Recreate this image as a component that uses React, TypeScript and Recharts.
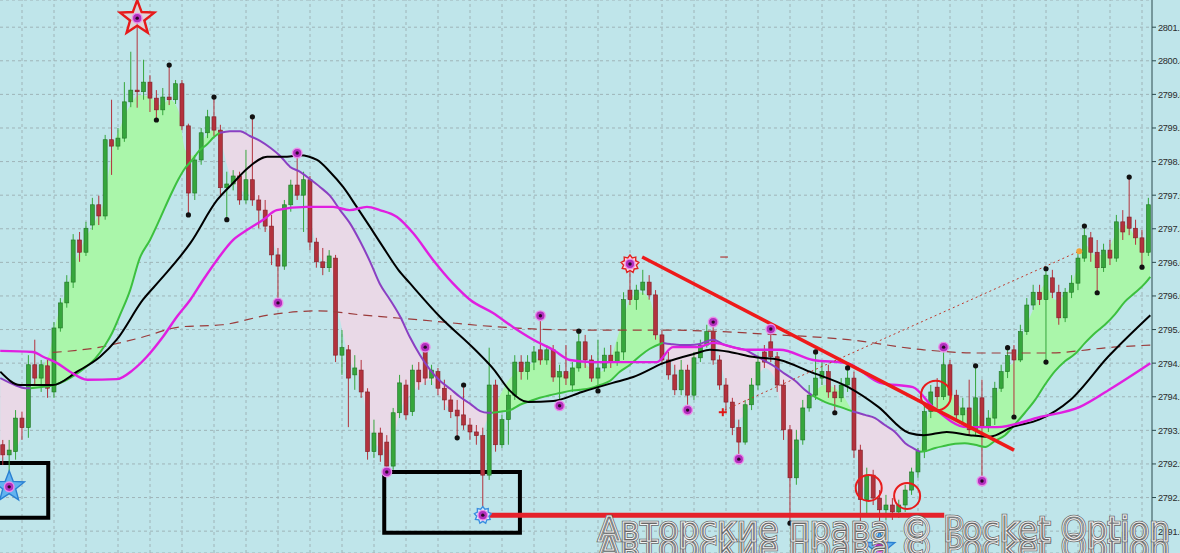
import React from "react";
import {
  ComposedChart,
  XAxis,
  YAxis,
  CartesianGrid,
  Bar,
  Line,
  Area,
  ReferenceArea,
  ReferenceDot,
  ReferenceLine,
} from "recharts";

// ---------- candles (price) ----------
const candleOpen = [
  2793.27, 2793.08, 2793.14, 2793.77, 2793.59, 2794.77, 2794.52, 2794.75, 2794.26, 2795.46,
  2795.93, 2796.32, 2797.11, 2796.88, 2797.39, 2797.77, 2797.56, 2798.99, 2798.87, 2799.02,
  2799.7, 2799.92, 2799.89, 2800.07, 2799.77, 2799.55, 2799.79, 2799.74, 2800.04, 2799.25,
  2797.99, 2798.61, 2799.12, 2799.42, 2799.17, 2798.09, 2798.16, 2798.31, 2797.86, 2798.24,
  2797.86, 2797.67, 2797.37, 2796.83, 2796.62, 2797.77, 2798.14, 2797.95, 2798.24, 2797.07,
  2796.7, 2796.59, 2796.77, 2794.95, 2795.05, 2794.58, 2794.67, 2794.26, 2793.14, 2793.49,
  2793.32, 2792.87, 2793.87, 2794.39, 2793.89, 2794.67, 2795.01, 2794.52, 2794.64, 2794.33,
  2794.11, 2793.92, 2793.83, 2793.64, 2793.51, 2793.44, 2792.7, 2794.39, 2793.27, 2793.74,
  2794.2, 2794.82, 2794.64, 2794.82, 2795.05, 2794.86, 2795.05, 2794.54, 2794.64, 2794.39,
  2794.71, 2795.2, 2794.86, 2794.52, 2794.71, 2794.95, 2794.82, 2795.01, 2796.17, 2795.99,
  2796.17, 2796.32, 2796.08, 2795.33, 2794.86, 2794.58, 2794.3, 2794.67, 2794.2, 2794.9,
  2795.14, 2795.39, 2794.86, 2794.39, 2794.07, 2793.59, 2793.32, 2794.02, 2794.39, 2795.01,
  2795.2, 2794.92, 2794.39, 2793.55, 2792.65, 2793.36, 2793.96, 2794.2, 2794.52, 2794.64,
  2794.26, 2794.15, 2794.39, 2794.52, 2793.17, 2792.24, 2792.7, 2792.27, 2792.05, 2792.14,
  2792.01, 2792.14, 2792.42, 2792.76, 2793.14, 2793.89, 2794.35, 2794.17, 2794.77, 2794.2,
  2793.83, 2793.96, 2793.55, 2794.15, 2793.59, 2793.77, 2794.33, 2794.64, 2795.05, 2794.86,
  2795.39, 2795.89, 2796.13, 2795.99, 2796.4, 2796.13, 2795.65, 2796.13, 2796.3, 2796.77,
  2797.15, 2796.88, 2796.59, 2796.92, 2796.77, 2797.45, 2797.54, 2797.33, 2797.15, 2796.88,
];
const candleHigh = [
  2793.36, 2793.36, 2793.92, 2793.89, 2794.95, 2795.24, 2794.86, 2794.86, 2795.57, 2796.02,
  2796.45, 2797.22, 2797.26, 2797.45, 2797.9, 2797.94, 2799.08, 2799.74, 2799.21, 2800.07,
  2800.64, 2801.27, 2800.49, 2800.2, 2799.92, 2799.96, 2800.39, 2800.11, 2800.11, 2799.29,
  2798.7, 2799.21, 2799.55, 2799.79, 2799.27, 2798.39, 2798.42, 2798.39, 2798.8, 2799.42,
  2797.95, 2797.86, 2797.58, 2796.96, 2797.86, 2798.24, 2798.74, 2798.39, 2798.31, 2797.15,
  2796.96, 2796.92, 2796.83, 2795.42, 2795.14, 2794.95, 2794.86, 2794.33, 2793.74, 2793.59,
  2793.45, 2793.96, 2794.58, 2794.49, 2794.77, 2794.82, 2795.1, 2794.77, 2794.71, 2794.49,
  2794.2, 2794.11, 2794.39, 2793.77, 2793.64, 2793.59, 2795.09, 2794.49, 2793.83, 2794.3,
  2794.95, 2794.95, 2794.95, 2795.12, 2795.69, 2795.14, 2795.14, 2794.77, 2795.14, 2794.82,
  2795.4, 2795.33, 2794.95, 2795.24, 2795.09, 2795.14, 2795.2, 2796.13, 2796.66, 2796.27,
  2796.55, 2796.45, 2796.17, 2795.42, 2795.01, 2794.77, 2794.86, 2794.77, 2795.01, 2795.24,
  2795.52, 2795.57, 2794.95, 2794.52, 2794.15, 2793.74, 2794.11, 2794.52, 2794.95, 2795.14,
  2795.44, 2795.01, 2794.49, 2793.64, 2793.55, 2794.11, 2794.39, 2795.01, 2794.82, 2794.77,
  2794.39, 2794.52, 2794.71, 2794.64, 2793.27, 2792.84, 2792.8, 2792.42, 2792.33, 2792.27,
  2792.24, 2792.52, 2792.84, 2793.21, 2794.02, 2794.39, 2794.52, 2795.1, 2794.86, 2794.3,
  2794.15, 2794.49, 2794.75, 2794.49, 2793.92, 2794.45, 2794.77, 2795.09, 2795.14, 2795.52,
  2796.02, 2796.27, 2796.27, 2796.57, 2796.55, 2796.27, 2796.21, 2796.45, 2796.9, 2797.37,
  2797.26, 2797.11, 2797.04, 2797.11, 2797.58, 2797.67, 2798.29, 2797.49, 2797.3, 2797.9,
];
const candleLow = [
  2792.89, 2792.48, 2792.99, 2793.36, 2793.4, 2794.39, 2794.26, 2794.15, 2794.15, 2795.39,
  2795.84, 2796.21, 2796.7, 2796.81, 2797.3, 2797.39, 2797.49, 2798.33, 2798.8, 2798.95,
  2799.6, 2799.59, 2799.74, 2799.51, 2799.36, 2799.45, 2799.64, 2799.66, 2799.17, 2797.58,
  2797.86, 2798.52, 2799.02, 2799.06, 2797.95, 2797.49, 2798.04, 2797.77, 2797.79, 2797.75,
  2797.33, 2797.26, 2796.64, 2795.93, 2796.55, 2797.64, 2797.86, 2797.26, 2796.92, 2796.59,
  2796.45, 2796.51, 2794.82, 2794.58, 2793.6, 2794.3, 2794.15, 2792.99, 2793.02, 2792.95,
  2792.76, 2792.8, 2793.77, 2793.74, 2793.81, 2794.3, 2794.39, 2794.39, 2794.2, 2793.92,
  2793.77, 2793.4, 2793.55, 2793.36, 2793.27, 2791.95, 2792.61, 2793.14, 2793.21, 2793.27,
  2794.11, 2794.49, 2794.49, 2794.67, 2794.77, 2794.77, 2794.45, 2794.0, 2794.39, 2794.26,
  2794.64, 2794.71, 2794.45, 2794.28, 2794.64, 2794.71, 2794.75, 2794.86, 2795.89, 2795.8,
  2796.08, 2795.99, 2795.24, 2794.77, 2794.49, 2794.2, 2794.2, 2793.92, 2794.11, 2794.82,
  2795.09, 2794.77, 2794.3, 2793.89, 2793.45, 2793.0, 2793.27, 2793.92, 2794.3, 2794.71,
  2794.82, 2794.26, 2793.36, 2791.8, 2792.52, 2793.27, 2793.89, 2794.11, 2794.39, 2794.15,
  2793.87, 2794.07, 2794.26, 2793.02, 2791.67, 2791.95, 2792.14, 2791.77, 2791.86, 2791.86,
  2791.9, 2792.01, 2792.33, 2792.65, 2793.02, 2793.77, 2793.96, 2794.11, 2794.11, 2793.74,
  2793.64, 2793.45, 2793.45, 2792.59, 2793.51, 2793.64, 2794.26, 2794.52, 2793.79, 2794.82,
  2795.33, 2795.8, 2795.89, 2794.82, 2796.02, 2795.52, 2795.57, 2796.02, 2796.17, 2796.7,
  2796.7, 2796.12, 2796.51, 2796.64, 2796.7, 2797.11, 2797.2, 2797.02, 2796.6, 2796.81,
];
const candleClose = [
  2793.08, 2793.17, 2793.77, 2793.59, 2794.77, 2794.52, 2794.77, 2794.33, 2795.46, 2795.93,
  2796.32, 2797.11, 2796.88, 2797.33, 2797.77, 2797.56, 2798.99, 2798.87, 2799.02, 2799.7,
  2799.92, 2799.89, 2800.07, 2799.77, 2799.55, 2799.79, 2799.74, 2800.04, 2799.25, 2797.99,
  2798.61, 2799.12, 2799.42, 2799.17, 2798.09, 2798.16, 2798.31, 2797.86, 2798.24, 2797.86,
  2797.67, 2797.37, 2796.83, 2796.62, 2797.77, 2798.14, 2797.95, 2798.24, 2797.07, 2796.7,
  2796.59, 2796.81, 2794.95, 2795.09, 2794.52, 2794.71, 2794.26, 2793.14, 2793.49, 2793.08,
  2792.87, 2793.87, 2794.43, 2793.83, 2794.67, 2794.45, 2794.52, 2794.67, 2794.33, 2794.11,
  2793.89, 2793.81, 2793.64, 2793.51, 2793.44, 2792.7, 2794.39, 2793.27, 2793.74, 2794.2,
  2794.82, 2794.64, 2794.82, 2795.01, 2794.86, 2795.05, 2794.54, 2794.64, 2794.52, 2794.71,
  2795.2, 2794.86, 2794.52, 2794.71, 2794.95, 2794.82, 2795.01, 2795.99, 2795.99, 2796.17,
  2796.32, 2796.08, 2795.33, 2794.86, 2794.58, 2794.3, 2794.67, 2794.2, 2794.9, 2795.14,
  2795.39, 2794.86, 2794.39, 2794.07, 2793.59, 2793.32, 2794.02, 2794.39, 2794.82, 2794.82,
  2794.92, 2794.39, 2793.55, 2792.65, 2793.36, 2793.96, 2794.2, 2794.52, 2794.64, 2794.26,
  2794.15, 2794.39, 2794.52, 2793.17, 2792.24, 2792.7, 2792.27, 2792.05, 2792.14, 2792.01,
  2792.14, 2792.42, 2792.76, 2793.14, 2793.89, 2794.26, 2794.17, 2794.77, 2794.2, 2793.83,
  2793.96, 2793.55, 2794.15, 2793.59, 2793.77, 2794.33, 2794.64, 2794.94, 2794.86, 2795.39,
  2795.89, 2796.13, 2795.99, 2796.45, 2796.13, 2795.65, 2796.13, 2796.3, 2796.77, 2797.19,
  2796.88, 2796.59, 2796.92, 2796.77, 2797.45, 2797.26, 2797.33, 2797.15, 2796.88, 2797.77,
];

// ---------- axes ----------
const yTicks = [
  2801.1, 2800.47, 2799.84, 2799.21, 2798.58, 2797.95, 2797.32, 2796.69,
  2796.06, 2795.43, 2794.8, 2794.17, 2793.54, 2792.91, 2792.28, 2791.65,
];
const vGrid = [
  3, 8, 13, 18, 23, 28, 33, 38, 43, 48, 53, 58, 63, 68, 73, 78, 83, 88,
  93, 98, 103, 108, 113, 118, 123, 128, 133, 138, 143, 148, 153, 158, 163, 168, 173, 178,
];

// ---------- trend cloud: slow line & fast edge ----------
const cloudIdx = [
  -0.4, 1.9, 3.5, 4.3, 5.8, 7.4, 8.5, 9.7, 11.3, 12.8,
  14.4, 16.0, 17.1, 18.3, 19.9, 21.4, 23.0, 24.6, 26.1, 27.4,
  28.5, 29.6, 30.8, 31.8, 33.0, 33.9, 35.5, 37.1, 38.6, 40.2,
  41.8, 43.3, 44.9, 46.4, 48.0, 49.6, 51.1, 52.7, 54.2, 55.8,
  57.4, 58.9, 60.5, 62.1, 63.6, 65.2, 66.8, 68.3, 69.9, 71.4,
  73.0, 74.6, 75.8, 76.4, 77.7, 79.3, 80.8, 82.4, 83.9, 85.5,
  87.1, 88.6, 90.2, 91.8, 93.3, 94.9, 96.4, 98.0, 99.6, 101.1,
  102.7, 103.2, 104.3, 105.8, 107.4, 108.9, 111.0, 112.8, 114.4, 116.0,
  117.5, 119.1, 120.7, 122.2, 123.8, 125.3, 126.4, 128.5, 130.8, 132.7,
  133.6, 134.7, 136.3, 137.8, 139.4, 141.0, 142.5, 143.3, 144.1, 145.7,
  147.2, 148.8, 150.3, 151.9, 153.5, 155.0, 156.6, 158.2, 159.7, 161.3,
  162.8, 164.4, 166.0, 167.5, 169.1, 170.7, 172.2, 173.8, 175.3, 176.9,
  178.5, 179.3,
];
const cloudSlow = [
  2794.52, 2794.39, 2794.33, 2794.33, 2794.35, 2794.37, 2794.41, 2794.47, 2794.58, 2794.71,
  2794.88, 2795.14, 2795.37, 2795.7, 2796.17, 2796.77, 2797.11, 2797.52, 2797.92, 2798.24,
  2798.46, 2798.61, 2798.8, 2798.89, 2799.04, 2799.12, 2799.15, 2799.15, 2799.06, 2798.97,
  2798.84, 2798.69, 2798.48, 2798.39, 2798.25, 2798.1, 2797.94, 2797.67, 2797.43, 2797.09,
  2796.7, 2796.29, 2795.99, 2795.67, 2795.29, 2794.95, 2794.67, 2794.47, 2794.32, 2794.17,
  2794.04, 2793.9, 2793.87, 2793.87, 2793.89, 2793.92, 2794.02, 2794.09, 2794.15, 2794.2,
  2794.24, 2794.28, 2794.3, 2794.33, 2794.39, 2794.47, 2794.64, 2794.77, 2794.94, 2795.07,
  2795.16, 2795.18, 2795.16, 2795.14, 2795.14, 2795.16, 2795.24, 2795.14, 2795.09, 2795.05,
  2794.95, 2794.84, 2794.73, 2794.6, 2794.47, 2794.3, 2794.2, 2794.07, 2793.98, 2793.9,
  2793.87, 2793.83, 2793.77, 2793.64, 2793.51, 2793.3, 2793.19, 2793.14, 2793.15, 2793.21,
  2793.25, 2793.29, 2793.3, 2793.27, 2793.23, 2793.34, 2793.45, 2793.66, 2793.87, 2794.11,
  2794.39, 2794.65, 2794.84, 2794.97, 2795.18, 2795.37, 2795.52, 2795.72, 2795.95, 2796.12,
  2796.3, 2796.42,
];
const cloudFast = [
  2793.02, 2793.17, 2793.74, 2794.33, 2794.64, 2795.05, 2795.65, 2796.08, 2796.7, 2797.11,
  2797.45, 2797.95, 2798.8, 2799.21, 2799.64, 2799.83, 2799.79, 2799.64, 2799.74, 2799.55,
  2798.8, 2798.69, 2798.84, 2799.08, 2799.17, 2799.12, 2798.33, 2798.05, 2797.95, 2797.67,
  2797.2, 2796.83, 2797.86, 2798.05, 2797.49, 2796.77, 2796.64, 2795.61, 2794.86, 2794.49,
  2793.55, 2793.21, 2793.17, 2793.92, 2794.2, 2794.39, 2794.49, 2794.2, 2793.92, 2793.77,
  2793.59, 2793.45, 2793.77, 2793.87, 2794.2, 2794.52, 2794.67, 2794.77, 2794.9, 2794.86,
  2794.58, 2794.64, 2794.82, 2794.71, 2794.64, 2794.86, 2795.42, 2795.99, 2796.13, 2795.99,
  2795.24, 2795.18, 2794.86, 2794.64, 2794.67, 2795.05, 2795.24, 2794.49, 2793.74, 2793.83,
  2794.39, 2794.71, 2794.49, 2793.55, 2793.17, 2793.92, 2794.2, 2794.39, 2794.26, 2793.9,
  2792.99, 2792.42, 2792.24, 2792.09, 2792.05, 2792.24, 2792.8, 2793.14, 2793.64, 2794.11,
  2794.49, 2794.11, 2793.92, 2793.92, 2793.64, 2794.11, 2794.67, 2794.86, 2795.42, 2795.89,
  2796.27, 2795.99, 2796.08, 2796.45, 2797.02, 2796.83, 2796.83, 2797.2, 2797.39, 2797.2,
  2797.11, 2797.58,
];

// ---------- moving averages ----------
const blackIdx = [
  -0.4, 2.7, 7.8, 11.6, 15.2, 17.8, 21.9, 24.6, 29.3, 33.5, 36.0, 38.3, 41.3, 44.4, 46.4,
  49.1, 51.1, 53.2, 55.3, 57.4, 59.4, 61.8, 63.6, 68.3, 73.8, 76.8, 79.1, 82.1, 86.0, 90.5,
  95.3, 98.5, 103.2, 108.5, 110.5, 113.6, 117.1, 121.4, 126.1, 132.1, 136.8, 141.6, 143.9,
  147.5, 151.1, 154.2, 157.7, 161.9, 166.8, 172.7, 179.3,
];
const blackVal = [
  2794.64, 2794.39, 2794.39, 2794.64, 2794.92, 2795.24, 2795.99, 2796.36, 2797.05, 2797.86,
  2798.18, 2798.46, 2798.67, 2798.67, 2798.7, 2798.61, 2798.39, 2798.1, 2797.73, 2797.35,
  2796.98, 2796.55, 2796.3, 2795.67, 2795.05, 2794.67, 2794.3, 2794.07, 2794.09, 2794.26,
  2794.43, 2794.54, 2794.8, 2794.99, 2795.05, 2795.01, 2794.92, 2794.86, 2794.64, 2794.35,
  2793.98, 2793.49, 2793.45, 2793.51, 2793.45, 2793.42, 2793.6, 2793.74, 2794.11, 2794.92,
  2795.7,
];
const magentaIdx = [
  -0.4, 4.7, 6.3, 8.5, 10.5, 13.2, 17.8, 20.3, 22.5, 25.0, 27.2, 29.3, 31.3, 33.5, 36.0,
  38.2, 40.7, 42.8, 47.5, 51.6, 54.2, 56.9, 58.9, 61.6, 64.1, 67.2, 70.3, 73.0, 76.6, 79.7,
  82.9, 86.0, 88.6, 92.2, 99.6, 102.2, 104.7, 108.5, 111.0, 116.3, 121.4, 126.6, 131.9,
  137.1, 142.2, 145.3, 150.7, 155.4, 162.1, 168.3, 173.5, 179.3,
];
const magentaVal = [
  2795.03, 2795.01, 2794.92, 2794.8, 2794.64, 2794.49, 2794.5, 2794.67, 2794.92, 2795.29,
  2795.67, 2795.99, 2796.36, 2796.74, 2797.11, 2797.3, 2797.49, 2797.67, 2797.73, 2797.73,
  2797.67, 2797.73, 2797.67, 2797.54, 2797.24, 2796.74, 2796.3, 2795.99, 2795.74, 2795.48,
  2795.24, 2795.05, 2794.86, 2794.82, 2794.82, 2794.82, 2795.1, 2795.1, 2795.18, 2795.05,
  2795.05, 2794.86, 2794.8, 2794.43, 2794.35, 2793.98, 2793.6, 2793.6, 2793.79, 2793.98,
  2794.35, 2794.8,
];
const brownIdx = [
  7.8, 15.2, 21.9, 27.7, 34.3, 41.4, 49.3, 56.4, 65.3, 77.4, 90.5, 103.2, 121.4, 132.1,
  143.9, 152.7, 163.2, 173.5, 179.3,
];
const brownVal = [
  2795.0, 2795.1, 2795.29, 2795.48, 2795.52, 2795.7, 2795.78, 2795.7, 2795.61, 2795.48,
  2795.42, 2795.42, 2795.33, 2795.24, 2795.05, 2794.99, 2794.99, 2795.1, 2795.14,
];

// ---------- drawn objects ----------
const trendIdx = [99.9, 158.0];
const trendVal = [2796.79, 2793.17];
const supportIdx = [75.5, 147.1];
const supportVal = [2791.95, 2791.95];
const dottedIdx = [112.8, 168.2];
const dottedVal = [2793.92, 2796.9];
const dashIdx = [112.1, 113.3];
const dashVal = [2796.79, 2796.79];
const boxX1 = [-1.2, 59.6];
const boxX2 = [7.1, 80.8];
const boxY1 = [2791.9, 2791.62];
const boxY2 = [2792.93, 2792.76];
const circleIdx = [135.3, 141.3, 145.8];
const circleVal = [2792.46, 2792.31, 2794.19];
const circleR = [13, 13, 15];

// ---------- signal markers ----------
const fractalIdx = [43, 46, 60, 66, 84, 87, 107, 111, 115, 120, 147, 153];
const fractalVal = [
  2795.93, 2798.74, 2792.76, 2795.1, 2795.69, 2794.0, 2793.92, 2795.57, 2793.0, 2795.44,
  2795.1, 2792.59,
];
const blackDotIdx = [
  24, 26, 29, 33, 35, 39, 71, 72, 90, 93, 123, 127, 130, 132, 152, 157, 158, 163, 163, 169,
  171, 176, 178,
];
const blackDotVal = [
  2799.36, 2800.39, 2797.58, 2799.79, 2797.49, 2799.42, 2793.4, 2794.39, 2795.4, 2794.28,
  2791.8, 2795.01, 2793.87, 2794.71, 2794.75, 2795.09, 2793.79, 2796.57, 2794.82, 2797.37,
  2796.12, 2798.29, 2796.6,
];
const markerKind = ["redStar", "blueStar", "blueStar", "blueGear", "redGear", "redPlus", "orange"];
const markerIdx = [21, 1, 137, 75, 98, 112.5, 168.2];
const markerVal = [2801.27, 2792.48, 2791.34, 2791.95, 2796.66, 2793.88, 2796.9];

const watermark = "Авторские права © Pocket Option";

// ---------- styles ----------
const BG = "#bfe5ea";
const GRID = "#9fb4b8";
const AXIS = "#2c4a4e";
const UP = "#36a63c";
const UP_EDGE = "#1f7424";
const DOWN = "#b3323d";
const DOWN_EDGE = "#7e1e27";
const BODY_W = 4;

// ---------- derived tables ----------
const candles = candleOpen.map((o, i) => ({
  i,
  o,
  h: candleHigh[i],
  l: candleLow[i],
  c: candleClose[i],
}));
const cloud = cloudIdx.map((i, k) => ({ i, s: cloudSlow[k], f: cloudFast[k] }));
const greenCloud = cloud.map((p) => ({ i: p.i, r: p.f >= p.s ? [p.s, p.f] : null }));
const pinkCloud = cloud.map((p) => ({ i: p.i, r: p.f <= p.s ? [p.f, p.s] : null }));
const slowGreen = cloud.map((p) => ({ i: p.i, v: p.f >= p.s ? p.s : null }));
const slowPurple = cloud.map((p) => ({ i: p.i, v: p.f <= p.s ? p.s : null }));
const pairs = (xs: number[], ys: number[]) => xs.map((i, k) => ({ i, v: ys[k] }));
const blackData = pairs(blackIdx, blackVal);
const magentaData = pairs(magentaIdx, magentaVal);
const brownData = pairs(brownIdx, brownVal);
const trendData = pairs(trendIdx, trendVal);
const supportData = pairs(supportIdx, supportVal);
const dottedData = pairs(dottedIdx, dottedVal);
const dashData = pairs(dashIdx, dashVal);

// ---------- shapes ----------
const Candle = (props: any) => {
  const { x, y, width, height, payload } = props;
  if (!payload || x == null || y == null) return <g />;
  const top = Math.min(y, y + height);
  const hgt = Math.abs(height);
  const { o, h, l, c } = payload;
  const k = h - l > 0 ? hgt / (h - l) : 0;
  const yAt = (v: number) => top + (h - v) * k;
  const up = c >= o;
  const color = up ? UP : DOWN;
  const edge = up ? UP_EDGE : DOWN_EDGE;
  const cx = x + (width || 0) / 2;
  const bt = yAt(Math.max(o, c));
  const bb = yAt(Math.min(o, c));
  return (
    <g>
      <line x1={cx} x2={cx} y1={top} y2={top + hgt} stroke={color} strokeWidth={1} />
      <rect
        x={cx - BODY_W / 2}
        y={bt}
        width={BODY_W}
        height={Math.max(1, bb - bt)}
        fill={color}
        stroke={edge}
        strokeWidth={0.6}
      />
    </g>
  );
};

const starPath = (cx: number, cy: number, R: number, r: number, n: number) => {
  let d = "";
  for (let k = 0; k < n * 2; k++) {
    const a = -Math.PI / 2 + (k * Math.PI) / n;
    const rad = k % 2 === 0 ? R : r;
    d += (k ? "L" : "M") + (cx + rad * Math.cos(a)).toFixed(2) + "," + (cy + rad * Math.sin(a)).toFixed(2);
  }
  return d + "Z";
};

const Center = ({ cx, cy }: { cx: number; cy: number }) => (
  <g>
    <circle cx={cx} cy={cy} r={4.8} fill="#b32fbe" stroke="#e98de9" strokeWidth={1.4} />
    <circle cx={cx} cy={cy} r={1.7} fill="#2a0a2a" />
  </g>
);

const makeMarker = (kind: string) => (p: any) => {
  const { cx, cy } = p;
  if (cx == null || cy == null) return <g />;
  if (kind === "redStar")
    return (
      <g>
        <path d={starPath(cx, cy, 18, 7.5, 5)} fill="#f6c6c6" fillOpacity={0.55} stroke="#e61a1a" strokeWidth={2.4} />
        <Center cx={cx} cy={cy} />
      </g>
    );
  if (kind === "blueStar")
    return (
      <g>
        <path d={starPath(cx, cy, 16, 6.8, 5)} fill="#62b3f0" stroke="#2a80d2" strokeWidth={1.4} />
        <Center cx={cx} cy={cy} />
      </g>
    );
  if (kind === "blueGear")
    return (
      <g>
        <path d={starPath(cx, cy, 8.5, 6.2, 9)} fill="#d8eefc" stroke="#3a8ee0" strokeWidth={1.4} />
        <Center cx={cx} cy={cy} />
      </g>
    );
  if (kind === "redGear")
    return (
      <g>
        <path d={starPath(cx, cy, 9, 6.5, 9)} fill="#ffd4d4" stroke="#e02424" strokeWidth={1.4} />
        <Center cx={cx} cy={cy} />
      </g>
    );
  if (kind === "redPlus")
    return (
      <g stroke="#e01818" strokeWidth={2}>
        <line x1={cx - 4} x2={cx + 4} y1={cy} y2={cy} />
        <line x1={cx} x2={cx} y1={cy - 4} y2={cy + 4} />
      </g>
    );
  return <circle cx={cx} cy={cy} r={3} fill="#f0a23a" />;
};

const fractalShape = (p: any) =>
  p.cx == null ? <g /> : <Center cx={p.cx} cy={p.cy} />;
const blackDotShape = (p: any) =>
  p.cx == null ? <g /> : <circle cx={p.cx} cy={p.cy} r={2.6} fill="#111" />;

const PriceTick = (props: any) => {
  const { x, y, payload } = props;
  return (
    <text x={x} y={y} dy={3.5} fontSize={9.2} letterSpacing={-0.3} fontFamily="Liberation Sans, Arial" fill="#2b2b2b">
      {Number(payload.value).toFixed(2)}
    </text>
  );
};

export default function App() {
  return (
    <div
      style={{
        position: "fixed",
        left: 0,
        top: 0,
        width: 1180,
        height: 553,
        background: BG,
        overflow: "hidden",
      }}
    >
      <ComposedChart width={1180} height={553} data={candles} margin={{ top: 0, right: 0, bottom: 0, left: 0 }}>
        <XAxis
          type="number"
          dataKey="i"
          domain={[-0.4375, 179.5625]}
          allowDataOverflow
          ticks={vGrid}
          interval={0}
          height={0}
          tick={false}
          tickLine={false}
          axisLine={false}
        />
        <YAxis
          orientation="right"
          type="number"
          domain={[2791.24, 2801.61]}
          allowDataOverflow
          ticks={yTicks}
          interval={0}
          width={28}
          tickSize={4}
          axisLine={{ stroke: AXIS, strokeWidth: 1 }}
          tickLine={{ stroke: AXIS }}
          tick={<PriceTick />}
        />
        <CartesianGrid stroke={GRID} strokeDasharray="3 3" vertical={false} />
        {vGrid.map((v) => (
          <ReferenceLine key={`vg${v}`} x={v} stroke={GRID} strokeDasharray="3 3" {...({ zIndex: -50 } as any)} />
        ))}

        <Area data={greenCloud} dataKey="r" type="monotone" fill="#aaf6aa" fillOpacity={1} stroke="none" isAnimationActive={false} activeDot={false} />
        <Area data={pinkCloud} dataKey="r" type="monotone" fill="#e9d9e7" fillOpacity={1} stroke="none" isAnimationActive={false} activeDot={false} />

        <Line data={brownData} dataKey="v" type="monotone" stroke="#9b3b3b" strokeWidth={1.2} strokeDasharray="9 6" dot={false} activeDot={false} isAnimationActive={false} />
        <Line data={dashData} dataKey="v" type="linear" stroke="#b03a3a" strokeWidth={1.2} dot={false} activeDot={false} isAnimationActive={false} />

        <Bar dataKey={(d: any) => [d.l, d.h]} barSize={4} shape={<Candle />} isAnimationActive={false} />

        <Line data={slowGreen} dataKey="v" type="monotone" stroke="#3cc03f" strokeWidth={2} dot={false} activeDot={false} isAnimationActive={false} />
        <Line data={slowPurple} dataKey="v" type="monotone" stroke="#8b40c2" strokeWidth={2} dot={false} activeDot={false} isAnimationActive={false} />
        <Line data={blackData} dataKey="v" type="monotone" stroke="#000000" strokeWidth={2} dot={false} activeDot={false} isAnimationActive={false} />
        <Line data={magentaData} dataKey="v" type="monotone" stroke="#e01fe0" strokeWidth={2.4} dot={false} activeDot={false} isAnimationActive={false} />
        <Line data={dottedData} dataKey="v" type="linear" stroke="#c0392b" strokeWidth={1} strokeDasharray="2 3" dot={false} activeDot={false} isAnimationActive={false} />
        <Line data={trendData} dataKey="v" type="linear" stroke="#ee1a1a" strokeWidth={3.5} dot={false} activeDot={false} isAnimationActive={false} />
        <Line data={supportData} dataKey="v" type="linear" stroke="#e5222b" strokeWidth={5} dot={false} activeDot={false} isAnimationActive={false} />

        {boxX1.map((x1, k) => (
          <ReferenceArea
            key={`box${k}`}
            x1={x1}
            x2={boxX2[k]}
            y1={boxY1[k]}
            y2={boxY2[k]}
            fill="none"
            stroke="#000"
            strokeWidth={4}
            ifOverflow="visible"
          />
        ))}
        {circleIdx.map((x, k) => (
          <ReferenceDot key={`cir${k}`} x={x} y={circleVal[k]} r={circleR[k]} fill="none" stroke="#e81c1c" strokeWidth={2} />
        ))}
        {fractalIdx.map((x, k) => (
          <ReferenceDot key={`fr${k}`} x={x} y={fractalVal[k]} r={5} shape={fractalShape} />
        ))}
        {blackDotIdx.map((x, k) => (
          <ReferenceDot key={`bd${k}`} x={x} y={blackDotVal[k]} r={3} shape={blackDotShape} />
        ))}
        {markerIdx.map((x, k) => (
          <ReferenceDot key={`mk${k}`} x={x} y={markerVal[k]} r={5} shape={makeMarker(markerKind[k])} />
        ))}
      </ComposedChart>

      <svg
        width={1180}
        height={553}
        style={{ position: "absolute", left: 0, top: 0, pointerEvents: "none" }}
      >
        {[559, 541].map((by) => (
          <g key={by} fontFamily="DejaVu Sans, Verdana, sans-serif" fontSize={33}>
            <text x={598} y={by} textLength={572} lengthAdjust="spacingAndGlyphs" fill="#ffffff" fillOpacity={0.3} stroke="#666666" strokeWidth={2.6}>
              {watermark}
            </text>
            <text x={598} y={by} textLength={572} lengthAdjust="spacingAndGlyphs" fill="none" stroke="#f4f4f4" strokeWidth={1}>
              {watermark}
            </text>
          </g>
        ))}
      </svg>
    </div>
  );
}
